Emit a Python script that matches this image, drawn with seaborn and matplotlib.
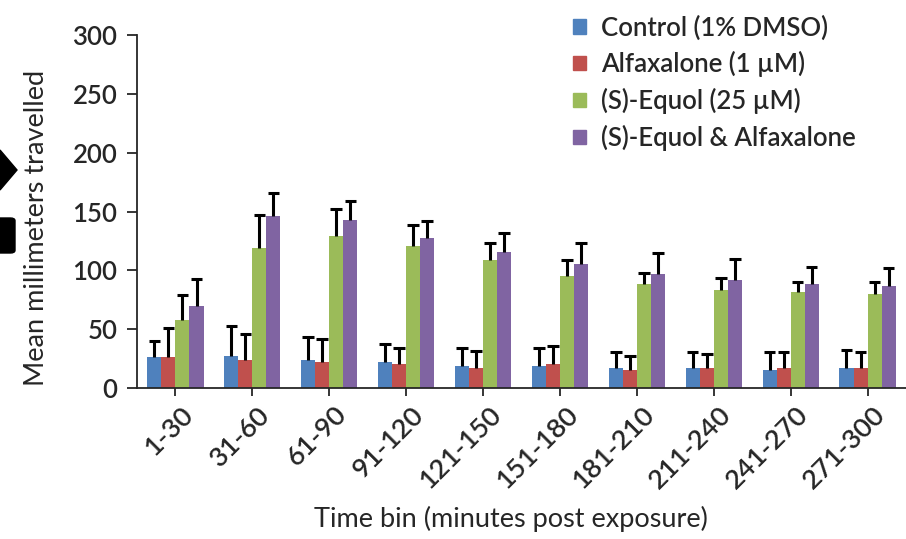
import pandas as pd
import matplotlib.pyplot as plt
import matplotlib.patches as mpatches
import matplotlib.transforms as mtransforms
import seaborn as sns
import numpy as np

# data
time_bins = ['1-30', '31-60', '61-90', '91-120', '121-150',
             '151-180', '181-210', '211-240', '241-270', '271-300']
groups = ['Control (1% DMSO)', 'Alfaxalone (1 µM)',
          '(S)-Equol (25 µM)', '(S)-Equol & Alfaxalone']

control = [26, 27.5, 24, 22.4, 19, 19, 17.3, 17.3, 15.6, 17.3]
alfax = [26, 24, 22.4, 20.7, 17.3, 20.7, 15.6, 17.3, 17.3, 17.3]
equol = [58, 119, 129, 120.7, 109, 95.5, 88.4, 83.3, 81.6, 80]
both = [70, 146, 143, 127.5, 115.6, 105.7, 97.2, 92, 88.4, 86.7]

# upper error bar ends
control_top = [40, 52.4, 43.6, 37.4, 33.7, 33.7, 30.3, 30.3, 30.3, 32]
alfax_top = [50.7, 45.6, 42, 33.7, 31.7, 35.4, 26.9, 28.6, 30.3, 30.3]
equol_top = [79, 147, 152, 138.5, 123.5, 108.5, 98, 93.2, 89.8, 89.8]
both_top = [93, 166, 159, 142, 132, 123.5, 115, 110, 103, 101.7]

colors = ['#4F81BD', '#C0504D', '#9BBB59', '#8064A2']

means = [control, alfax, equol, both]
tops = [control_top, alfax_top, equol_top, both_top]

rows = []
for g, vals in zip(groups, means):
    for t, v in zip(time_bins, vals):
        rows.append({'bin': t, 'group': g, 'mm': v})
df = pd.DataFrame(rows)

sns.set_style('ticks')
plt.rcParams['font.family'] = ['Lato', 'DejaVu Sans']
plt.rcParams['font.weight'] = 'semibold'

fig = plt.figure(figsize=(9.06, 5.39), dpi=100)
ax = fig.add_axes([137/906, 1 - 388/539, (906 - 137)/906, (388 - 35)/539])

sns.barplot(data=df, x='bin', y='mm', hue='group', palette=colors,
            width=0.73, saturation=1, errorbar=None, ax=ax, legend=False,
            linewidth=0)

# upper-only error bars (stem + top cap only)
for cont, vals, top in zip(ax.containers, means, tops):
    xs = np.array([p.get_x() + p.get_width() / 2 for p in cont])
    ax.vlines(xs, vals, top, color='black', linewidth=2.2, zorder=3)
    ax.hlines(top, xs - 0.075, xs + 0.075, color='black', linewidth=2.2, zorder=3)

ax.set_ylim(0, 300)
ax.set_xlim(-0.5, 9.5)
ax.set_yticks(range(0, 301, 50))
ax.tick_params(axis='y', labelsize=18.5, length=7, width=1.3, pad=7)
ax.tick_params(axis='x', labelsize=19.5, length=6, width=1.3, pad=4)
shift = mtransforms.ScaledTranslation(5/100, 0, fig.dpi_scale_trans)
for lab in ax.get_xticklabels():
    lab.set_rotation(45)
    lab.set_ha('right')
    lab.set_rotation_mode('anchor')
    lab.set_transform(lab.get_transform() + shift)
for s in ['top', 'right']:
    ax.spines[s].set_visible(False)
ax.spines['left'].set_linewidth(1.3)
ax.spines['bottom'].set_linewidth(1.3)

ax.set_xlabel('Time bin (minutes post exposure)', fontsize=19.5)
ax.set_ylabel('Mean millimeters travelled', fontsize=19.5)
ax.xaxis.set_label_coords((511 - 137)/769, (388 - 506)/353)
ax.yaxis.set_label_coords((49 - 137)/769, (388 - 228)/353)

handles = [mpatches.Patch(color=c, label=g) for c, g in zip(colors, groups)]
fig.legend(handles=handles, loc='upper left', bbox_to_anchor=(550/906, 1 + 8/539),
           frameon=False, fontsize=18.5, handlelength=0.5, handleheight=0.5,
           handletextpad=0.6, labelspacing=0.42)

# cropped panel label on the left edge
fig.patches.append(mpatches.Polygon([[0, 1 - 150/539], [17/906, 1 - 170/539], [0, 1 - 190/539]],
                                    closed=True, color='black', transform=fig.transFigure))
fig.patches.append(mpatches.FancyBboxPatch((-10/906, 1 - 253/539), 25/906, 35/539,
                                           boxstyle='round,pad=0,rounding_size=0.005',
                                           color='black', transform=fig.transFigure))

fig.savefig('out.png', dpi=100)
